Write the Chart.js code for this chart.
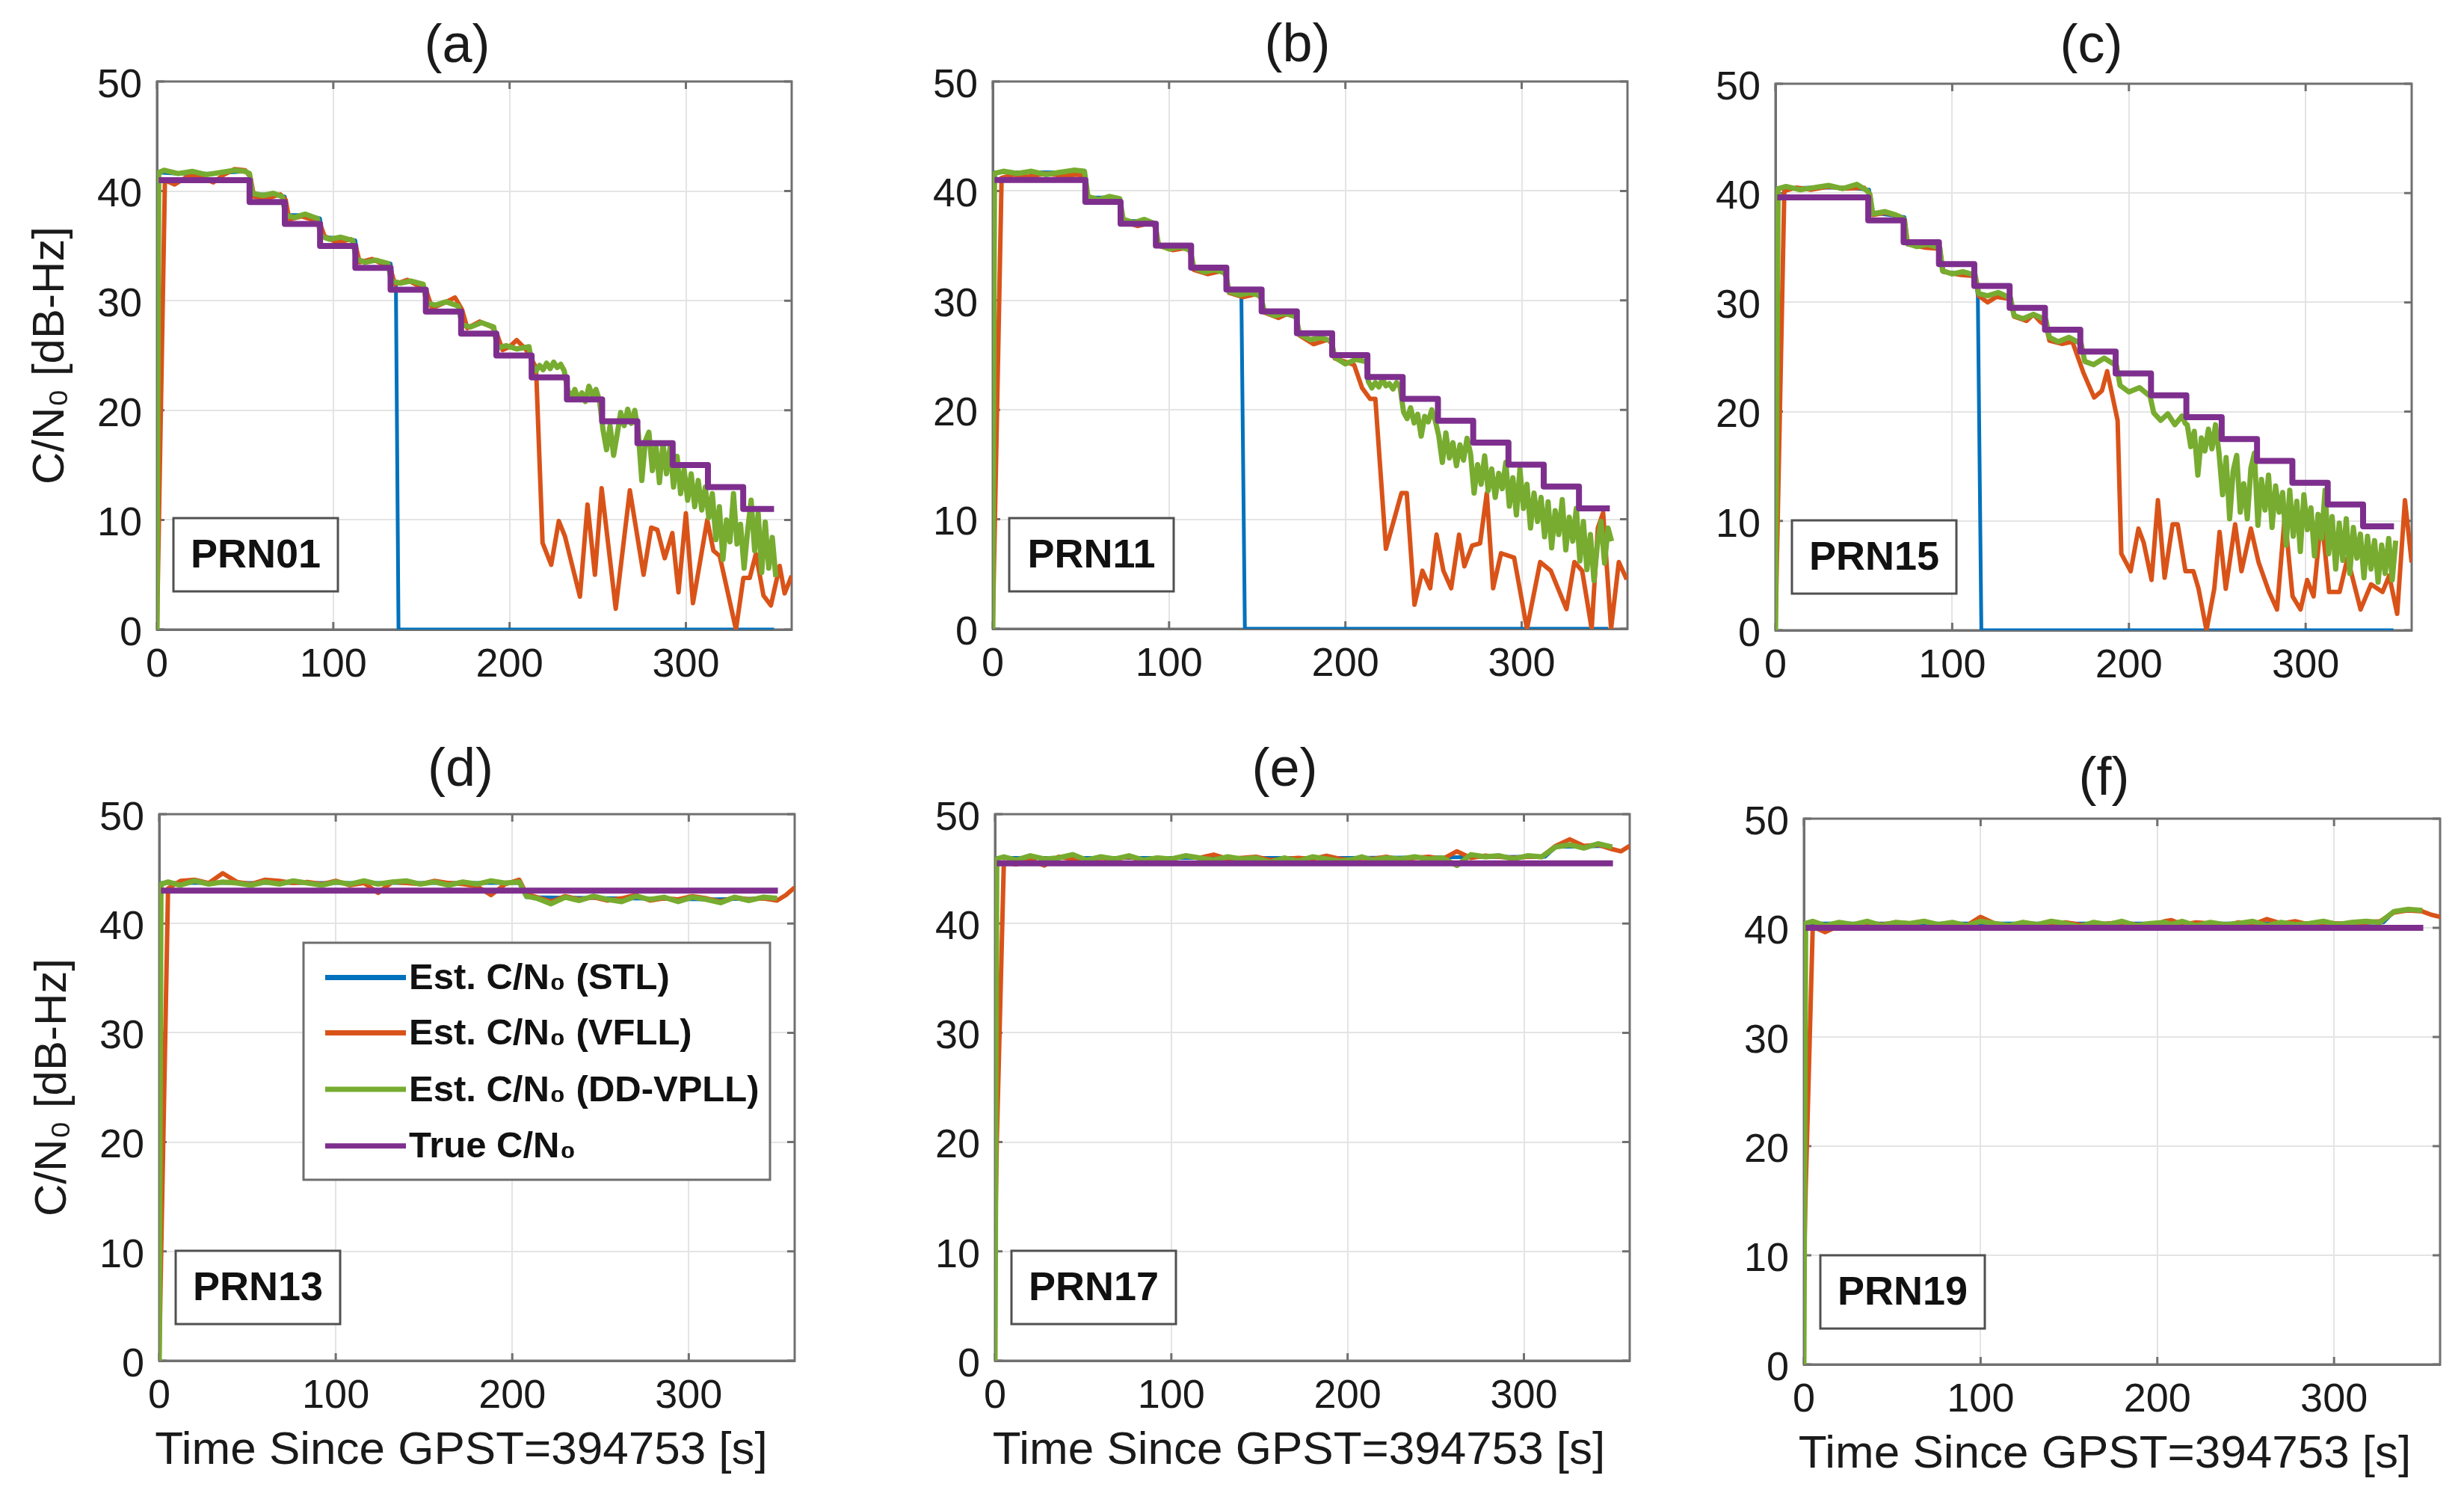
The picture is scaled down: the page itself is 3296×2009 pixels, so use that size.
<!DOCTYPE html>
<html>
<head>
<meta charset="utf-8">
<title>Estimated vs true C/N0</title>
<script src="https://cdn.jsdelivr.net/npm/chart.js@4.4.1/dist/chart.umd.min.js"></script>
<style>
  html, body { margin: 0; padding: 0; background: #fff; }
  body { width: 3296px; height: 2009px; position: relative; overflow: hidden; }
  .panel { position: absolute; }
</style>
</head>
<body>
<script>
// Axis ticks and labels
const xTicks = [0, 100, 200, 300];
const yTicks = [0, 10, 20, 30, 40, 50];
const seriesNames = ['Est. C/N\u2080 (STL)', 'Est. C/N\u2080 (VFLL)', 'Est. C/N\u2080 (DD-VPLL)', 'True C/N\u2080'];
const yTitleText = 'C/N\u2080 [dB-Hz]';
const xTitleText = 'Time Since GPST=394753 [s]';

// True C/N0 staircase, top row (time of each step, then level)
const stepTimes = [1, 52.5, 72.5, 92.5, 112.5, 132.5, 152.5, 172.5, 192.5, 212.5, 232.5, 252.5, 272.5, 292.5, 312.5, 332.5, 350];
const aTrue = [41, 39, 37, 35, 33, 31, 29, 27, 25, 23, 21, 19, 17, 15, 13, 11, 11];
const bTrue = [41, 39, 37, 35, 33, 31, 29, 27, 25, 23, 21, 19, 17, 15, 13, 11, 11];
const cTrue = [39.6, 37.5, 35.5, 33.5, 31.5, 29.5, 27.5, 25.5, 23.5, 21.5, 19.5, 17.5, 15.5, 13.5, 11.5, 9.5, 9.5];

// True C/N0, bottom row (constant)
const flatTrueT = [1, 350.5];
const dTrue = [43, 43];
const eTrue = [45.5, 45.5];
const fTrue = [40, 40];

// PRN01 estimates [time, C/N0]
const aStl = [[0,0],[1,41.7],[12,41.6],[30,41.6],[50,41.8],[52.5,41.6],[54,39.7],[65,39.7],[72.5,39.5],[74,37.8],[85,37.8],[92.5,37.5],[94,35.8],[105,35.7],[112.5,35.5],[114,33.7],[125,33.6],[132.5,33.4],[134,31.7],[135.5,31.6],[137,0],[350,0]];
const aVfll = [[0,0],[4.5,41.0],[10,40.6],[18,41.4],[26,41.2],[32,40.8],[38,41.5],[44,42.0],[50,41.9],[53,41.3],[55,39.5],[62,39.3],[70,39.7],[73,39.2],[75,37.4],[82,37.7],[90,37.3],[93,36.8],[95,35.9],[102,35.3],[110,35.6],[113,34.8],[115,33.5],[122,33.8],[130,33.2],[133,32.6],[135,31.5],[142,31.9],[150,31.2],[153,30.8],[156,29.3],[163,29.8],[169,30.3],[173,29.2],[176,27.5],[183,28.1],[190,27.6],[193,26.9],[196,25.5],[200,25.8],[204,26.4],[209,25.6],[212,24.8],[215,23.9],[218.7,7.9],[223.6,5.9],[227.9,9.9],[231.4,8.5],[239.9,3.0],[244.2,11.4],[248.4,5.0],[252.2,12.9],[260.2,1.9],[268.2,12.7],[276,5.0],[280.3,9.3],[283.8,9.1],[288,6.5],[292.3,8.8],[295.8,3.4],[300,10.6],[304,2.4],[312.1,10.0],[315.6,7.2],[319.2,6.7],[328.4,0],[332.6,4.7],[336.2,4.7],[339.7,6.9],[344,3.1],[348.2,2.2],[353.2,5.8],[356,3.3],[360,4.9]];
const aDd = [[0,0],[1,41.7],[4,41.9],[12,41.6],[20,41.8],[28,41.5],[36,41.7],[44,41.9],[50,41.8],[52.5,41.6],[54,39.8],[60,39.6],[66,39.8],[71,39.5],[73,37.8],[78,37.6],[84,37.9],[91,37.5],[93,35.9],[98,35.6],[104,35.8],[111,35.5],[113,33.8],[118,33.5],[124,33.7],[131,33.4],[133,31.8],[138,31.6],[144,31.8],[151,31.5],[153,29.8],[158,29.6],[164,29.9],[171,29.5],[173,27.8],[178,27.6],[184,28.0],[191,27.6],[193,25.7],[198,25.9],[204,25.6],[211,25.8],[213,24.0],[215,23.6],[217,24.1],[219,23.7],[221,24.3],[223,23.8],[225,24.4],[227,23.9],[229,24.2],[231,23.6],[233,21.8],[235,21.2],[237,21.9],[239,21.0],[241,21.6],[243,20.8],[245,22.2],[247,21.3],[249,21.9],[251,20.9],[253,18.2],[255,16.4],[257,18.6],[259,15.9],[261,17.8],[263,19.8],[265,18.6],[267,20.1],[269,18.8],[271,20.0],[273,17.9],[275,13.6],[277,17.2],[279,18.0],[281,14.5],[283,16.8],[285,13.4],[287,17.0],[289,14.2],[291,16.6],[293,13.0],[295,15.8],[297,12.4],[299,14.6],[301,11.8],[303,14.2],[305,11.2],[307,13.6],[309,10.9],[311,13.0],[313,10.2],[315,12.4],[317,8.2],[319,11.2],[321,6.4],[323,10.0],[325,8.0],[327,12.4],[329,7.8],[331,9.6],[333,5.6],[335,9.0],[337,11.8],[339,7.2],[341,10.6],[343,5.2],[345,9.8],[347,5.6],[349,8.4],[351,4.8]];

// PRN11 estimates
const bStl = [[0,0],[1,41.7],[20,41.7],[40,41.7],[52,41.8],[54,39.4],[70,39.4],[72,39.3],[74,37.3],[90,37.2],[92,37.0],[94,35.0],[110,34.8],[112,34.6],[114,32.8],[130,32.7],[132,32.5],[134,30.7],[141,30.5],[143,0],[349,0]];
const bVfll = [[0,0],[5,41.2],[12,41.5],[20,41.3],[30,41.6],[40,41.4],[48,41.5],[52,41.3],[54,39.3],[62,39.0],[70,39.3],[72,39.0],[74,37.2],[82,36.8],[90,37.1],[92,36.7],[94,35.0],[102,34.6],[110,34.8],[112,34.4],[114,32.8],[122,32.4],[130,32.7],[132,32.3],[134,30.7],[142,30.3],[150,30.6],[152,30.2],[154,28.9],[162,28.4],[170,29.0],[172,28.4],[174,26.8],[182,26.0],[190,26.4],[192,26.1],[194,24.7],[200,24.4],[205,24.1],[209.5,22.0],[214,21.0],[217,21.0],[223,7.3],[231.8,12.4],[234.8,12.4],[239.2,2.2],[243.7,5.3],[248.1,3.7],[251.7,8.6],[255.6,5.3],[260,3.7],[264.5,8.6],[267.5,5.7],[271.9,7.6],[276.4,7.8],[280.2,12.4],[283.8,3.7],[288.3,6.9],[295.7,6.5],[303,0],[310.5,6.1],[316.5,5.3],[325.4,1.8],[329.9,6.1],[334.3,5.3],[339.7,0],[343.2,9.2],[346.2,10.6],[350.7,0],[355.1,6.1],[359.6,4.5]];
const bDd = [[0,0],[1,41.6],[6,41.8],[14,41.6],[22,41.8],[30,41.5],[38,41.7],[46,41.9],[52,41.8],[54,39.5],[60,39.2],[66,39.5],[72,39.3],[74,37.4],[80,37.1],[86,37.4],[92,37.0],[94,35.1],[100,34.7],[106,34.9],[112,34.6],[114,33.0],[120,32.6],[126,32.8],[132,32.5],[134,30.8],[140,30.5],[146,30.7],[152,30.4],[154,29.0],[160,28.6],[166,28.8],[172,28.5],[174,26.9],[180,26.4],[186,26.6],[192,26.3],[194,24.8],[200,24.2],[206,24.6],[212,24.4],[213,22.6],[215,22.0],[217,22.5],[219,22.1],[221,22.8],[223,22.2],[225,22.4],[227,21.9],[229,22.5],[231,22.1],[233,19.8],[235,19.2],[237,20.2],[239,18.8],[241,19.6],[243,17.6],[245,19.4],[247,18.9],[249,20.0],[251,19.0],[253,17.6],[255,15.2],[257,17.9],[259,15.6],[261,17.0],[263,14.9],[265,16.8],[267,15.4],[269,17.4],[271,16.0],[273,12.4],[275,15.0],[277,13.2],[279,15.8],[281,12.6],[283,14.6],[285,12.0],[287,14.2],[289,12.8],[291,15.2],[293,11.2],[295,13.8],[297,10.4],[299,14.6],[301,11.0],[303,13.2],[305,9.2],[307,12.4],[309,9.8],[311,12.0],[313,8.4],[315,11.6],[317,7.4],[319,10.8],[321,8.6],[323,11.8],[325,7.2],[327,10.2],[329,8.0],[331,11.0],[333,6.2],[335,9.8],[337,5.4],[339,8.6],[341,4.4],[343,7.8],[345,9.8],[347,6.0],[349,9.2],[351,8.0]];

// PRN15 estimates
const cStl = [[0,0],[1,40.4],[20,40.5],[40,40.5],[53,40.3],[55,38.2],[73,37.8],[74.5,35.3],[93,35.0],[94.5,32.8],[113,32.5],[114.5,30.6],[116.5,0],[349.7,0]];
const cVfll = [[0,0],[5,40.2],[12,40.5],[20,40.3],[30,40.6],[40,40.4],[50,40.5],[53.5,39.9],[55,38.0],[62,38.2],[70,37.9],[73,37.5],[75,35.3],[85,35.0],[93,34.9],[95,32.8],[105,32.5],[113,32.4],[115,30.6],[120,30.0],[125,30.5],[133,30.3],[135,28.7],[142,28.3],[146,28.9],[150,28.2],[153,27.9],[155,26.5],[162,26.2],[168,26.4],[174.4,23.5],[180.3,21.3],[184.7,21.9],[187.7,23.7],[193.6,19.2],[195.7,7.0],[201,5.4],[205.4,9.3],[208.4,8.0],[212.8,4.6],[216.4,11.9],[220.2,4.8],[224.7,9.7],[227.6,9.7],[232,5.4],[236.5,5.4],[239.4,3.8],[243.9,0],[248.3,3.8],[251.3,9.0],[254.8,3.8],[260.1,9.7],[263.7,5.4],[269,9.3],[273.4,6.2],[279.3,3.5],[283.8,1.9],[288.2,10.5],[292.6,3.1],[297.1,1.9],[300.9,4.6],[304.5,3.1],[308.9,10.5],[313.3,3.5],[319.2,3.5],[323.7,6.6],[331.1,1.9],[337,4.2],[343.5,3.5],[347.3,5.0],[351.8,1.5],[356.2,11.9],[360,6.2]];
const cDd = [[0,0],[1.5,40.4],[6,40.6],[14,40.3],[22,40.5],[30,40.7],[38,40.4],[46,40.8],[52,40.2],[53.5,39.8],[55,38.1],[62,38.3],[68,38.0],[73,37.6],[74.5,35.4],[80,35.1],[86,35.3],[93,35.0],[94.5,32.9],[100,32.6],[106,32.8],[113,32.5],[115,30.8],[120,30.6],[126,30.9],[133,30.4],[135,28.8],[140,28.5],[146,28.9],[153,28.4],[155,26.8],[160,26.4],[166,26.8],[173,26.2],[175,24.6],[180,24.3],[186,24.9],[193,24.2],[195,22.4],[200,21.8],[206,22.2],[212,21.4],[214,19.9],[218,19.2],[222,19.8],[226,18.8],[230,19.6],[232,18.9],[233,18.8],[235,16.8],[237,18.2],[239,14.2],[241,17.6],[243,16.4],[245,18.4],[247,16.6],[249,18.8],[251,16.2],[253,12.4],[255,15.8],[257,10.2],[259,14.6],[261,16.0],[263,10.8],[265,13.4],[267,10.2],[269,14.8],[271,16.2],[273,9.6],[275,13.8],[277,11.0],[279,14.2],[281,9.4],[283,13.2],[285,10.8],[287,12.6],[289,7.8],[291,12.8],[293,8.6],[295,11.8],[297,7.2],[299,12.4],[301,9.2],[303,11.2],[305,6.8],[307,10.6],[309,8.4],[311,12.8],[313,7.0],[315,10.4],[317,5.6],[319,9.8],[321,6.4],[323,10.2],[325,5.2],[327,9.4],[329,6.6],[331,8.8],[333,4.8],[335,8.6],[337,5.6],[339,8.2],[341,4.4],[343,7.8],[345,5.2],[347,8.4],[349,4.6],[351,8.2]];

// Bottom row: shared time grid for VFLL / DD-VPLL
const flatT = [0, 1, 5, 12, 20, 28, 36, 44, 52, 60,
  68, 76, 84, 92, 100, 108, 116, 124, 132, 140,
  148, 156, 164, 172, 180, 188, 196, 204, 208, 214,
  222, 230, 238, 246, 254, 262, 270, 278, 286, 294,
  302, 310, 318, 326, 334, 342, 350, 355, 360];

// PRN13
const dStl = [[0,0],[1,43.7],[60,43.7],[120,43.7],[180,43.7],[205,43.7],[208,42.4],[260,42.3],[310,42.2],[350,42.3]];
const dVfll = [0, 9, 43.2, 43.9, 44.0, 43.7, 44.6, 43.8, 43.6, 44.0,
  43.9, 43.7, 43.8, 43.6, 43.9, 43.5, 43.7, 42.8, 43.8, 43.7,
  43.6, 43.9, 43.7, 43.6, 43.4, 42.6, 43.6, 44.0, 42.7, 42.4,
  42.0, 42.5, 42.2, 42.4, 42.1, 42.3, 42.6, 42.1, 42.3, 42.2,
  42.5, 42.3, 42.0, 42.4, 42.2, 42.3, 42.1, 42.6, 43.3];
const dDd = [0, 43.6, 43.8, 43.5, 43.9, 43.6, 43.8, 43.7, 43.5, 43.8,
  43.6, 43.9, 43.7, 43.5, 43.8, 43.6, 43.9, 43.6, 43.8, 43.9,
  43.6, 43.8, 43.5, 43.8, 43.6, 43.9, 43.7, 43.8, 42.5, 42.3,
  41.8, 42.4, 42.1, 42.5, 42.2, 42.0, 42.5, 42.2, 42.4, 42.0,
  42.4, 42.2, 41.9, 42.4, 42.1, 42.4, 42.3, null, null];

// PRN17
const eStl = [[0,0],[1,46.0],[100,46.0],[200,46.0],[300,46.1],[312,46.1],[318,47.0],[350,47.1]];
const eVfll = [10, 20, 45.6, 45.4, 45.8, 45.3, 46.1, 45.9, 45.8, 46.0,
  45.9, 46.1, 45.8, 46.0, 45.9, 46.2, 46.0, 46.3, 45.9, 46.0,
  46.1, 45.8, 45.9, 46.0, 45.9, 46.2, 45.9, 45.8, 46.0, 45.9,
  46.1, 45.8, 46.0, 46.1, 45.9, 46.6, 46.0, 46.2, 46.1, 46.0,
  46.1, 46.1, 47.1, 47.7, 47.1, 47.2, 46.8, 46.6, 47.1];
const eDd = [0, 45.9, 46.1, 45.8, 46.2, 45.9, 46.0, 46.3, 45.8, 46.1,
  45.9, 46.2, 45.8, 46.0, 45.9, 46.2, 46.0, 45.8, 46.1, 45.9,
  46.0, 45.6, 46.0, 45.7, 46.1, 45.9, 45.7, 45.9, 46.1, 45.8,
  46.0, 45.9, 46.1, 45.9, 46.0, 45.3, 46.3, 46.1, 46.2, 45.9,
  46.2, 46.1, 47.0, 47.2, 46.9, 47.3, 47.0, null, null];

// PRN19
const fStl = [[0,0],[1,40.4],[100,40.4],[200,40.4],[300,40.4],[328,40.5],[334,41.5],[350,41.6]];
const fVfll = [8.5, 16, 40.1, 39.6, 40.2, 40.3, 40.5, 40.3, 40.5, 40.4,
  40.6, 40.3, 40.4, 40.2, 41.0, 40.4, 40.2, 40.5, 40.3, 40.4,
  40.5, 40.3, 40.2, 40.4, 40.5, 40.3, 40.1, 40.6, 40.7, 40.3,
  40.5, 40.4, 40.2, 40.5, 40.3, 40.8, 40.4, 40.6, 40.3, 40.5,
  40.4, 40.3, 40.5, 40.6, 41.4, 41.6, 41.5, 41.2, 41.0];
const fDd = [0, 40.4, 40.6, 40.2, 40.5, 40.3, 40.6, 40.2, 40.5, 40.4,
  40.6, 40.3, 40.5, 40.2, 40.6, 40.4, 40.2, 40.5, 40.3, 40.6,
  40.4, 40.1, 40.5, 40.3, 40.6, 40.2, 40.4, 40.5, 40.3, 40.6,
  40.2, 40.5, 40.3, 40.4, 40.6, 40.2, 40.5, 40.3, 40.4, 40.6,
  40.3, 40.5, 40.6, 40.5, 41.5, 41.7, 41.6, null, null];

// Styles
const colors = { stl: '#0072BD', vfll: '#D95319', dd: '#77AC30', truth: '#7E2F8E' };
const axisColor = '#707070';
const gridColor = '#e4e4e4';
const textColor = '#1a1a1a';
const fontFamily = "'Liberation Sans', Arial, sans-serif";

function pairs(list) {
    return list.map(p => ({ x: p[0], y: p[1] }));
}

function zipXY(xs, ys) {
    return xs.map((x, i) => ({ x: x, y: ys[i] }));
}

// Panel layout: plot area in page pixels [left, right, top, bottom]
const panels = [
    { box: [210, 1059, 109, 842], title: '(a)', dx: -23, dy: 46, prn: 'PRN01', yTitle: true, xTitle: false, xdx: 0, legend: false,
      stl: pairs(aStl), vfll: pairs(aVfll), dd: pairs(aDd), truth: zipXY(stepTimes, aTrue) },
    { box: [1328, 2177, 109, 841], title: '(b)', dx: -17, dy: 47, prn: 'PRN11', yTitle: false, xTitle: false, xdx: 0, legend: false,
      stl: pairs(bStl), vfll: pairs(bVfll), dd: pairs(bDd), truth: zipXY(stepTimes, bTrue) },
    { box: [2375, 3226, 112, 843], title: '(c)', dx: -3, dy: 49, prn: 'PRN15', yTitle: false, xTitle: false, xdx: 0, legend: false,
      stl: pairs(cStl), vfll: pairs(cVfll), dd: pairs(cDd), truth: zipXY(stepTimes, cTrue) },
    { box: [213, 1063, 1089, 1820], title: '(d)', dx: -22, dy: 58, prn: 'PRN13', yTitle: true, xTitle: true, xdx: -21, legend: true,
      stl: pairs(dStl), vfll: zipXY(flatT, dVfll), dd: zipXY(flatT, dDd), truth: zipXY(flatTrueT, dTrue) },
    { box: [1331, 2180, 1089, 1820], title: '(e)', dx: -37, dy: 58, prn: 'PRN17', yTitle: false, xTitle: true, xdx: -18, legend: false,
      stl: pairs(eStl), vfll: zipXY(flatT, eVfll), dd: zipXY(flatT, eDd), truth: zipXY(flatTrueT, eTrue) },
    { box: [2413, 3264, 1095, 1825], title: '(f)', dx: -24, dy: 52, prn: 'PRN19', yTitle: false, xTitle: true, xdx: -23, legend: false,
      stl: pairs(fStl), vfll: zipXY(flatT, fVfll), dd: zipXY(flatT, fDd), truth: zipXY(flatTrueT, fTrue) }
];

const Y_AXIS_W = 210;
const PAD_TOP = 110;
const PAD_RIGHT = 30;

// Frame, inner ticks, panel title, x title, PRN label and legend
const panelDecor = {
    id: 'panelDecor',
    beforeDatasetsDraw(chart, args, o) {
        const { ctx, chartArea: a, scales } = chart;
        ctx.save();
        ctx.strokeStyle = axisColor;
        ctx.lineWidth = 3;
        ctx.strokeRect(a.left, a.top, a.right - a.left, a.bottom - a.top);
        ctx.beginPath();
        xTicks.forEach(v => {
            const px = scales.x.getPixelForValue(v);
            ctx.moveTo(px, a.bottom); ctx.lineTo(px, a.bottom - 10);
            ctx.moveTo(px, a.top); ctx.lineTo(px, a.top + 10);
        });
        yTicks.forEach(v => {
            const py = scales.y.getPixelForValue(v);
            ctx.moveTo(a.left, py); ctx.lineTo(a.left + 10, py);
            ctx.moveTo(a.right, py); ctx.lineTo(a.right - 10, py);
        });
        ctx.stroke();
        ctx.restore();
    },
    afterDatasetsDraw(chart, args, o) {
        const { ctx, chartArea: a } = chart;
        ctx.save();

        // panel title
        ctx.fillStyle = textColor;
        ctx.font = '72px ' + fontFamily;
        ctx.textAlign = 'center';
        ctx.textBaseline = 'middle';
        ctx.fillText(o.title, (a.left + a.right) / 2 + o.dx, a.top - o.dy);

        // x axis title (bottom row)
        if (o.xTitle) {
            ctx.font = '62px ' + fontFamily;
            ctx.fillText(xTitleText, (a.left + a.right) / 2 + o.xdx, a.bottom + 121);
        }

        // PRN box
        const bx = a.left + 22, by = a.top + 584, bw = 220, bh = 98;
        ctx.fillStyle = '#fff';
        ctx.fillRect(bx, by, bw, bh);
        ctx.strokeStyle = '#505050';
        ctx.lineWidth = 3;
        ctx.strokeRect(bx, by, bw, bh);
        ctx.fillStyle = '#111';
        ctx.font = 'bold 54px ' + fontFamily;
        ctx.fillText(o.prn, bx + bw / 2, by + bh / 2 + 2);

        if (o.legend) {
            const lx = a.left + 193, ly = a.top + 172, lw = 624, lh = 317;
            ctx.fillStyle = '#fff';
            ctx.fillRect(lx, ly, lw, lh);
            ctx.strokeStyle = '#6e6e6e';
            ctx.lineWidth = 3;
            ctx.strokeRect(lx, ly, lw, lh);
            const rows = [46.6, 120.6, 196, 271.8];
            const rowColors = [colors.stl, colors.vfll, colors.dd, colors.truth];
            ctx.font = 'bold 49px ' + fontFamily;
            ctx.textAlign = 'left';
            rows.forEach((r, i) => {
                const yy = ly + r;
                ctx.strokeStyle = rowColors[i];
                ctx.lineWidth = 7;
                ctx.beginPath();
                ctx.moveTo(a.left + 222, yy);
                ctx.lineTo(a.left + 330, yy);
                ctx.stroke();
                ctx.fillStyle = '#111';
                ctx.fillText(seriesNames[i], a.left + 334, yy + 2);
            });
        }
        ctx.restore();
    }
};

function makeChart(p) {
    const [L, R, T, B] = p.box;
    const xH = p.xTitle ? 160 : 100;
    const w = (R - L) + Y_AXIS_W + PAD_RIGHT;
    const h = PAD_TOP + (B - T) + xH;

    const wrap = document.createElement('div');
    wrap.className = 'panel';
    wrap.style.left = (L - Y_AXIS_W) + 'px';
    wrap.style.top = (T - PAD_TOP) + 'px';
    wrap.style.width = w + 'px';
    wrap.style.height = h + 'px';
    const canvas = document.createElement('canvas');
    canvas.width = w;
    canvas.height = h;
    canvas.style.width = w + 'px';
    canvas.style.height = h + 'px';
    wrap.appendChild(canvas);
    document.body.appendChild(wrap);

    const line = (label, data, color, width, order) => ({
        label: label, data: data, borderColor: color, backgroundColor: color,
        borderWidth: width, order: order, pointRadius: 0, fill: false, tension: 0,
        borderJoinStyle: 'round', spanGaps: false
    });

    const truthSet = line(seriesNames[3], p.truth, colors.truth, 8, 0);
    truthSet.stepped = 'before';

    return new Chart(canvas, {
        type: 'line',
        data: {
            datasets: [
                truthSet,
                line(seriesNames[2], p.dd, colors.dd, 7, 1),
                line(seriesNames[1], p.vfll, colors.vfll, 6, 2),
                line(seriesNames[0], p.stl, colors.stl, 5, 3)
            ]
        },
        options: {
            responsive: false,
            animation: false,
            events: [],
            layout: { padding: { top: PAD_TOP, left: 0, right: PAD_RIGHT, bottom: 0 } },
            plugins: {
                legend: { display: false },
                tooltip: { enabled: false },
                title: { display: false },
                panelDecor: { title: p.title, dx: p.dx, dy: p.dy, prn: p.prn, legend: p.legend, xTitle: p.xTitle, xdx: p.xdx }
            },
            scales: {
                x: {
                    type: 'linear',
                    min: 0,
                    max: 360,
                    afterBuildTicks: s => { s.ticks = xTicks.map(v => ({ value: v })); },
                    afterFit: s => { s.height = xH; },
                    grid: { color: gridColor, lineWidth: 2, drawTicks: false },
                    border: { color: axisColor, width: 3 },
                    ticks: { color: textColor, font: { family: fontFamily, size: 54 }, padding: 16, maxRotation: 0, autoSkip: false }
                },
                y: {
                    type: 'linear',
                    min: 0,
                    max: 50,
                    afterBuildTicks: s => { s.ticks = yTicks.map(v => ({ value: v })); },
                    afterFit: s => { s.width = Y_AXIS_W; },
                    grid: { color: gridColor, lineWidth: 2, drawTicks: false },
                    border: { color: axisColor, width: 3 },
                    ticks: { color: textColor, font: { family: fontFamily, size: 54 }, padding: 20, labelOffset: 6, autoSkip: false },
                    title: { display: p.yTitle, text: yTitleText, color: textColor, font: { family: fontFamily, size: 60 }, padding: { top: 32, bottom: 0 } }
                }
            }
        },
        plugins: [panelDecor]
    });
}

panels.forEach(makeChart);
</script>
</body>
</html>
